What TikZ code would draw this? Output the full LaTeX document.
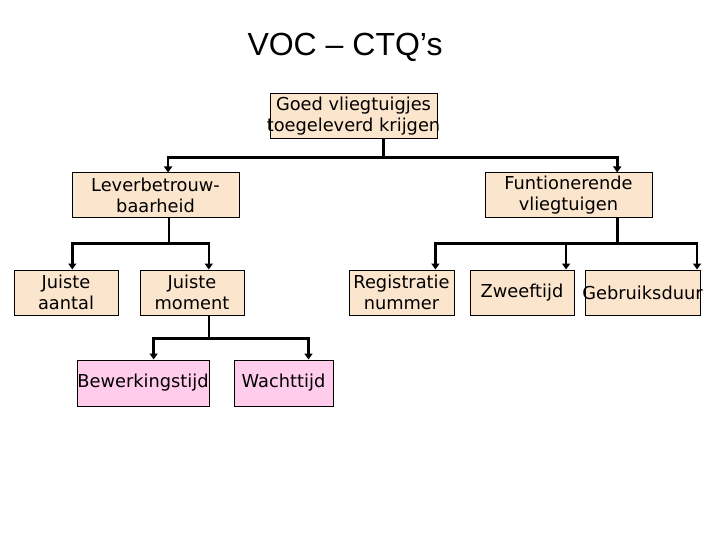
\documentclass[tikz,border=0pt]{standalone}
\usepackage{fontspec}
\setmainfont{DejaVu Sans}
\newfontfamily\titlefont{Liberation Sans}
\usetikzlibrary{arrows.meta,calc}
\definecolor{peach}{RGB}{252,229,205}
\definecolor{pinkbox}{RGB}{255,204,236}
\newcommand\olx[1]{\makebox[0pt][c]{#1}}
\begin{document}
\begin{tikzpicture}[x=1pt,y=-1pt,
  box/.style={draw=black,line width=1pt,fill=peach,inner sep=0pt,align=center,
    minimum height=45pt,font=\fontsize{17.8}{21}\selectfont},
  pbox/.style={box,fill=pinkbox,minimum height=46pt},
  conn/.style={line width=2.6pt,line join=miter},
  arr/.style={conn,-{Triangle[length=6pt,width=8pt]}}]
\useasboundingbox (0,0) rectangle (720,540);
\node[font=\titlefont\fontsize{32}{36}\selectfont,anchor=base] (title) at (345,56) {VOC – CTQ’s};
\node[box,minimum width=167pt] (top) at (353.5,116.5) {\olx{Goed vliegtuigjes}\\\olx{toegeleverd krijgen}};
\node[box,minimum width=167pt] (lev) at (155.5,195.5) {\olx{Leverbetrouw-}\\\olx{baarheid}};
\node[box,minimum width=167pt] (fun) at (568.5,195.5) {\olx{Funtionerende}\\\olx{vliegtuigen}};
\node[box,minimum width=104pt] (aan) at (66,292.5) {\olx{Juiste}\\\olx{aantal}};
\node[box,minimum width=104pt] (mom) at (192,292.5) {\olx{Juiste}\\\olx{moment}};
\node[box,minimum width=105pt] (reg) at (401.5,292.5) {\olx{Registratie}\\\olx{nummer}};
\node[box,minimum width=104pt] (zwe) at (522,292.5) {\olx{Zweeftijd}};
\node[box,minimum width=115pt] (geb) at (642.5,292.5) {\olx{Gebruiksduur}};
\node[pbox,minimum width=132pt] (bew) at (143,383) {\olx{Bewerkingstijd}};
\node[pbox,minimum width=99pt] (wac) at (283.5,383) {\olx{Wachttijd}};
% top level
\coordinate (topS) at ($(top.south west)!0.68!(top.south east)$);
\coordinate (bus1) at ($(topS)+(0,18)$);
\draw[conn] (topS) -- (bus1);
\draw[arr] (bus1) -| ($(lev.north west)!0.575!(lev.north east)$);
\draw[arr] (bus1) -| ($(fun.north west)!0.79!(fun.north east)$);
% left branch
\coordinate (levS) at ($(lev.south west)!0.58!(lev.south east)$);
\coordinate (bus2) at ($(levS)+(0,25)$);
\draw[conn] (levS) -- (bus2);
\draw[arr] (bus2) -| ($(aan.north west)!0.56!(aan.north east)$);
\draw[arr] (bus2) -| ($(mom.north west)!0.66!(mom.north east)$);
% moment branch
\coordinate (momS) at ($(mom.south west)!0.66!(mom.south east)$);
\coordinate (bus3) at ($(momS)+(0,23)$);
\draw[conn] (momS) -- (bus3);
\draw[arr] (bus3) -| ($(bew.north west)!0.58!(bew.north east)$);
\draw[arr] (bus3) -| ($(wac.north west)!0.75!(wac.north east)$);
% right branch
\coordinate (funS) at ($(fun.south west)!0.79!(fun.south east)$);
\coordinate (bus4) at ($(funS)+(0,25)$);
\draw[conn] (funS) -- (bus4);
\draw[arr] (bus4) -| ($(reg.north west)!0.82!(reg.north east)$);
\draw[arr] (bus4) -| ($(zwe.north west)!0.92!(zwe.north east)$);
\draw[arr] (bus4) -| ($(geb.north west)!0.97!(geb.north east)$);
\end{tikzpicture}
\end{document}
